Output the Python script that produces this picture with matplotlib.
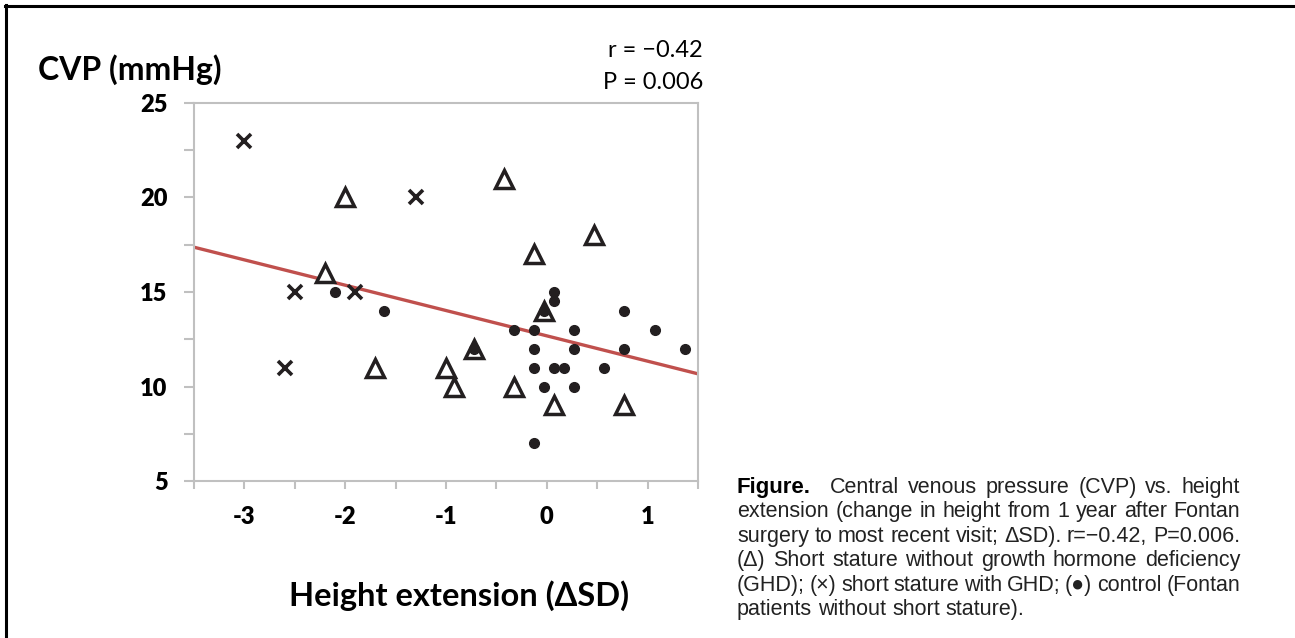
import matplotlib
matplotlib.use("Agg")
import matplotlib.pyplot as plt
from matplotlib.lines import Line2D
import numpy as np

plt.rcParams["axes.unicode_minus"] = False

# short stature with GHD (x)
ghd_x = [-3.0, -1.3, -2.5, -1.9, -2.6]
ghd_y = [23, 20, 15, 15, 11]

# short stature without GHD (open triangles)
noghd_x = [-2.0, -2.2, -0.42, -0.13, 0.47, -0.03, -0.72, -1.7, -1.0, -0.92, -0.33, 0.07, 0.77]
noghd_y = [20, 16, 21, 17, 18, 14, 12, 11, 11, 10, 10, 9, 9]

# control (dots)
ctrl_x = [-2.1, -1.62, 0.07, 0.07, 0.77, -0.33, -0.13, 0.27, 1.07, -0.13, 0.27, 0.77, 1.37,
          -0.13, 0.07, 0.17, 0.57, -0.03, 0.27, -0.13, -0.03, -0.72]
ctrl_y = [15, 14, 15, 14.5, 14, 13, 13, 13, 13, 12, 12, 12, 12,
          11, 11, 11, 11, 10, 10, 7, 14, 12]

# regression line
fit_slope = -1.34
fit_intercept = 12.68

xticks = [-3, -2, -1, 0, 1]
yticks = [5, 10, 15, 20, 25]

caption_lines = [
    ["Figure.", "Central", "venous", "pressure", "(CVP)", "vs.", "height"],
    ["extension", "(change", "in", "height", "from", "1", "year", "after", "Fontan"],
    ["surgery", "to", "most", "recent", "visit;", "\u0394SD).", "r=\u22120.42,", "P=0.006."],
    ["(\u0394)", "Short", "stature", "without", "growth", "hormone", "deficiency"],
    ["(GHD);", "(\u00d7)", "short", "stature", "with", "GHD;", "(\u25cf)", "control", "(Fontan"],
    ["patients", "without", "short", "stature)."],
]

W, H = 1295, 638
fig = plt.figure(figsize=(W / 100, H / 100), dpi=100)
ax = fig.add_axes([194 / W, 1 - 481 / H, (698 - 194) / W, (481 - 103) / H])

ink = "#231f20"
grey = "#c0c0c0"
bold_font = ["Lato", "DejaVu Sans"]

xs = np.array([-3.5, 1.5])
ax.plot(xs, fit_intercept + fit_slope * xs, color="#c0504d", lw=2.4, zorder=2)
ax.plot(noghd_x, noghd_y, ls="none", marker="^", ms=13, mfc="white", mec=ink, mew=2.5, zorder=3)
ax.plot(ghd_x, ghd_y, ls="none", marker="x", ms=10, mec=ink, mew=2.6, zorder=3)
ax.plot(ctrl_x, ctrl_y, ls="none", marker="o", ms=7, mfc=ink, mec=ink, zorder=4)

ax.set_xlim(-3.5, 1.5)
ax.set_ylim(5, 25)
ax.set_xticks(xticks)
ax.set_yticks(yticks)
ax.set_xticks(np.arange(-3.5, 1.6, 0.5), minor=True)
ax.set_yticks(np.arange(5, 25.1, 2.5), minor=True)
for s in ax.spines.values():
    s.set_color(grey)
    s.set_linewidth(1.5)
ax.tick_params(which="both", direction="out", color=grey, width=1.5, length=6)
ax.tick_params(axis="y", which="both", length=7)
ax.tick_params(axis="x", which="major", pad=12)
ax.tick_params(axis="y", which="major", pad=12)
for lab in ax.get_xticklabels() + ax.get_yticklabels():
    lab.set_fontfamily(bold_font)
    lab.set_fontweight("heavy")
    lab.set_fontsize(17)
    lab.set_color("black")

fig.text(38 / W, 1 - 80 / H, "CVP (mmHg)", family=bold_font, weight="bold", fontsize=23, ha="left", va="baseline")
fig.text(459 / W, 1 - 606 / H, "Height extension (\u0394SD)", family=bold_font, weight="bold",
         fontsize=23.5, ha="center", va="baseline")
fig.text(703 / W, 1 - 57 / H, "r = \u22120.42", family=["Lato", "DejaVu Sans"], fontsize=17, ha="right", va="baseline")
fig.text(703 / W, 1 - 89 / H, "P = 0.006", family=["Lato", "DejaVu Sans"], fontsize=17, ha="right", va="baseline")

# frame lines on top and left
fig.add_artist(Line2D([5 / W, 1], [1 - 6 / H, 1 - 6 / H], color="black", lw=2.2))
fig.add_artist(Line2D([6 / W, 6 / W], [0, 1 - 5 / H], color="black", lw=2.2))

# justified caption
renderer = fig.canvas.get_renderer()
cap_left, cap_right = 737, 1240
base0, step = 493, 24.4
reg_font = ["Liberation Sans", "DejaVu Sans"]
for i, words in enumerate(caption_lines):
    y = 1 - (base0 + i * step) / H
    texts = []
    for j, w in enumerate(words):
        if i == 0 and j == 0:
            t = fig.text(0, y, w, family=["Liberation Sans Narrow", "Liberation Sans", "DejaVu Sans"],
                         weight="bold", fontsize=16, va="baseline")
        else:
            t = fig.text(0, y, w, family=reg_font, fontsize=15.5, color="#222222", va="baseline")
        texts.append(t)
    widths = [t.get_window_extent(renderer).width for t in texts]
    # extra space after the "Figure." label
    extra = 10 if i == 0 else 0
    if i == len(caption_lines) - 1:
        gap = 6
    else:
        gap = (cap_right - cap_left - sum(widths) - extra) / (len(words) - 1)
    x = cap_left
    for j, (t, w) in enumerate(zip(texts, widths)):
        t.set_x(x / W)
        x += w + gap + (extra if j == 0 else 0)

fig.savefig("out.png", dpi=100)
